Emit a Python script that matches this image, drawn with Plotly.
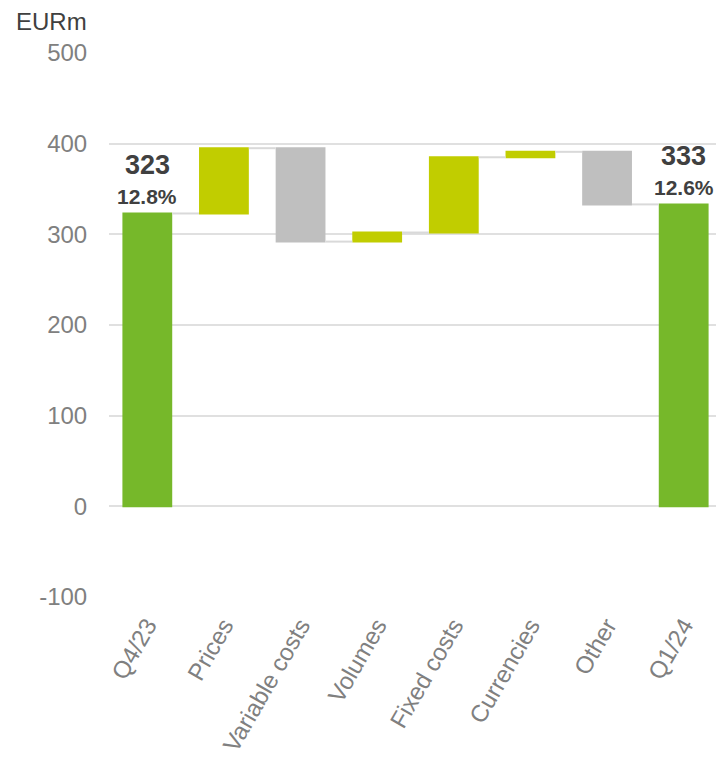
import plotly.graph_objects as go

categories = ["Q4/23", "Prices", "Variable costs", "Volumes", "Fixed costs", "Currencies", "Other", "Q1/24"]
values = [323, 72, -103, 10, 83, 6, -58, 333]
measures = ["absolute", "relative", "relative", "relative", "relative", "relative", "relative", "total"]
total_labels = {"Q4/23": ("323", "12.8%"), "Q1/24": ("333", "12.6%")}
tick_vals = [-100, 0, 100, 200, 300, 400, 500]
tick_text = ["-100", "0", "100", "200", "300", "400", "500"]

font_family = "Liberation Sans, Arial, sans-serif"

fig = go.Figure(go.Waterfall(
    x=categories,
    y=values,
    measure=measures,
    base=0,
    increasing=dict(marker=dict(color="#c1cd00")),
    decreasing=dict(marker=dict(color="#bfbfbf")),
    totals=dict(marker=dict(color="#76b82a")),
    connector=dict(line=dict(color="#d9d9d9", width=2)),
    hoverinfo="x+y",
))

# running totals for label positions
running = []
acc = 0
for v, m in zip(values, measures):
    if m == "absolute":
        acc = v
    elif m == "relative":
        acc += v
    running.append(acc)

for cat, top in zip(categories, running):
    if cat in total_labels:
        big, small = total_labels[cat]
        fig.add_annotation(x=cat, y=top, text="<b>" + big + "</b>", showarrow=False,
                           yanchor="middle", yshift=48,
                           font=dict(size=27, color="#404040", family=font_family))
        fig.add_annotation(x=cat, y=top, text="<b>" + small + "</b>", showarrow=False,
                           yanchor="middle", yshift=17,
                           font=dict(size=21, color="#404040", family=font_family))

fig.add_annotation(text="EURm", xref="paper", yref="paper", x=-0.153, y=1.0, yshift=32,
                   xanchor="left", yanchor="middle", showarrow=False, borderpad=0,
                   font=dict(size=24, color="#404040", family=font_family))

fig.update_layout(
    width=724, height=768,
    margin=dict(l=101, r=10, t=45, b=179),
    plot_bgcolor="white", paper_bgcolor="white",
    showlegend=False,
    waterfallgap=0.35,
    font=dict(family=font_family, color="#808080", size=24),
    xaxis=dict(tickangle=-60, tickfont=dict(size=24, color="#808080"), showgrid=False,
               showline=False, ticks="outside", ticklen=4, tickcolor="rgba(0,0,0,0)",
               automargin=False),
    yaxis=dict(range=[-100, 500], tickvals=tick_vals, ticktext=tick_text,
               gridcolor="#e0e0e0", gridwidth=1.5,
               zeroline=True, zerolinecolor="#e0e0e0", zerolinewidth=1.5,
               tickfont=dict(size=24, color="#808080"), ticks="outside", ticklen=16,
               tickcolor="rgba(0,0,0,0)", showline=False, automargin=False),
)

fig.write_html("out.html")
